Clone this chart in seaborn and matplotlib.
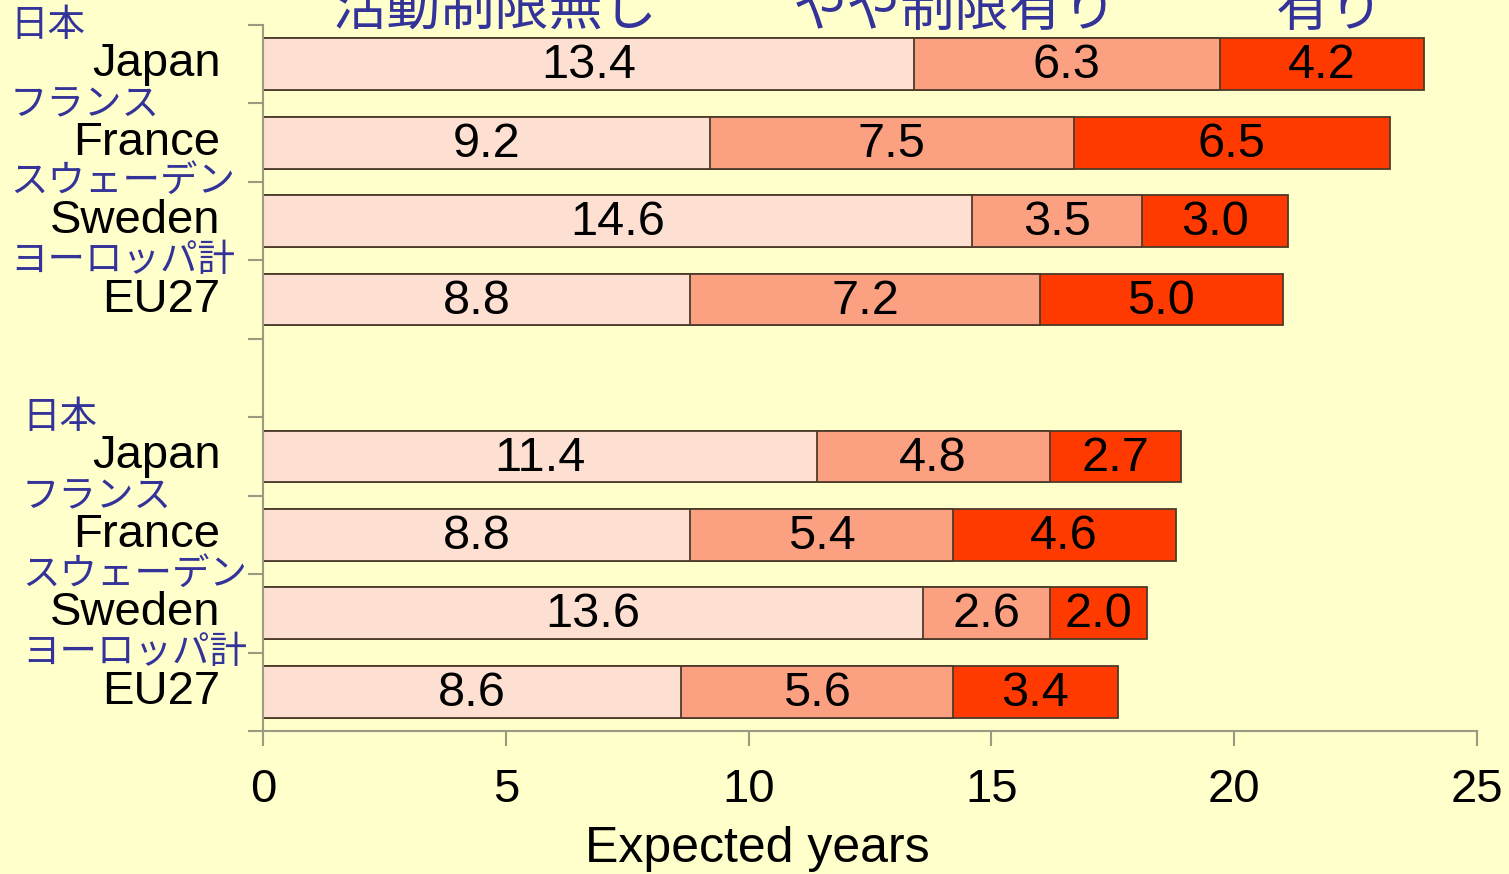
import matplotlib
matplotlib.use('Agg')
import matplotlib.pyplot as plt
import matplotlib.transforms as mtransforms
from matplotlib import font_manager
import numpy as np
import pandas as pd
import seaborn as sns

# data
countries = ['Japan', 'France', 'Sweden', 'EU27']
countries_ja = ['日本', 'フランス', 'スウェーデン', 'ヨーロッパ計']
no_limit_top = [13.4, 9.2, 14.6, 8.8]
some_limit_top = [6.3, 7.5, 3.5, 7.2]
limited_top = [4.2, 6.5, 3.0, 5.0]
no_limit_bottom = [11.4, 8.8, 13.6, 8.6]
some_limit_bottom = [4.8, 5.4, 2.6, 5.6]
limited_bottom = [2.7, 4.6, 2.0, 3.4]
legend_labels = ['活動制限無し', 'やや制限有り', '有り']
x_ticks = [0, 5, 10, 15, 20, 25]
x_label = 'Expected years'

BG = '#FFFFCC'
COLORS = ['#FDE0D2', '#FCA082', '#FF3A00']
EDGE = '#4d3b2a'
AXIS_COL = '#9a9a80'
BLUE = '#333399'

names = {f.name for f in font_manager.fontManager.ttflist}
LATIN = 'Liberation Sans' if 'Liberation Sans' in names else 'DejaVu Sans'
NARROW = 'Liberation Sans Narrow' if 'Liberation Sans Narrow' in names else LATIN
JP = ['Noto Sans CJK JP', 'DejaVu Sans']

plt.rcParams['font.family'] = [LATIN, 'Noto Sans CJK JP']

# slots: 0-3 top group, 4 empty, 5-8 bottom group (bars centred on slot + 0.5)
rows = []
for grp, (a, b, c), start in [('top', (no_limit_top, some_limit_top, limited_top), 0),
                               ('bottom', (no_limit_bottom, some_limit_bottom, limited_bottom), 5)]:
    for i, name in enumerate(countries):
        rows.append(dict(group=grp, country=name, ja=countries_ja[i], pos=start + i + 0.5,
                         v1=a[i], v2=b[i], v3=c[i]))
df = pd.DataFrame(rows)
df['c1'] = df['v1']
df['c2'] = df['v1'] + df['v2']
df['c3'] = df['c2'] + df['v3']

fig = plt.figure(figsize=(15.09, 8.74), dpi=100, facecolor=BG)
ax = fig.add_axes([263 / 1509, 1 - 731 / 874, (1477 - 263) / 1509, (731 - 25) / 874])
ax.set_facecolor(BG)

# stacked bars: draw cumulative totals from the outside in
for col, color in zip(['c3', 'c2', 'c1'], COLORS[::-1]):
    sns.barplot(data=df, x=col, y='pos', orient='h', native_scale=True, color=color,
                width=0.66, edgecolor=EDGE, linewidth=1.3, errorbar=None, ax=ax,
                saturation=1)

# value labels
for _, r in df.iterrows():
    for v, c in [(r.v1, r.c1), (r.v2, r.c2), (r.v3, r.c3)]:
        ax.text(c - v / 2, r.pos + 0.02, f'{v:.1f}', ha='center', va='center',
                fontsize=35, color='black', family=LATIN)

ax.set_xlim(0, 25)
ax.set_ylim(9, 0)
ax.set_xticks(x_ticks)
ax.set_xticklabels([str(t) for t in x_ticks], family=NARROW, fontsize=34)
ax.set_yticks(np.arange(0, 10))
ax.set_yticklabels([])
ax.set_xlabel(x_label, family=NARROW, fontsize=36)
ax.xaxis.set_label_coords(0.407, -0.134)
ax.set_ylabel('')
ax.tick_params(axis='both', colors=AXIS_COL, length=11, width=1.5)
ax.tick_params(axis='x', pad=16, labelcolor='black')
for s in ['top', 'right']:
    ax.spines[s].set_visible(False)
for s in ['left', 'bottom']:
    ax.spines[s].set_color(AXIS_COL)
    ax.spines[s].set_linewidth(1.5)

# category labels
trans = mtransforms.blended_transform_factory(ax.transAxes, ax.transData)
ftrans = mtransforms.blended_transform_factory(fig.transFigure, ax.transData)
for _, r in df.iterrows():
    ax.text(-0.035, r.pos, r.country, transform=trans, ha='right', va='center',
            fontsize=34, color='black', family=LATIN)
    xj = 10 / 1509 if r.group == 'top' else 22 / 1509
    fig.text(xj, r.pos - 0.5, r.ja, transform=ftrans, ha='left', va='center',
             fontsize=27, color=BLUE, family=JP)

# legend-like headings cut off at the top edge (as in the source image)
for label, xc in zip(legend_labels, [495, 955, 1330]):
    fig.text(xc / 1509, 1 - 10 / 874, label, ha='center', va='center',
             fontsize=39, color=BLUE, family=JP)

fig.savefig('out.png', dpi=100, facecolor=BG)
